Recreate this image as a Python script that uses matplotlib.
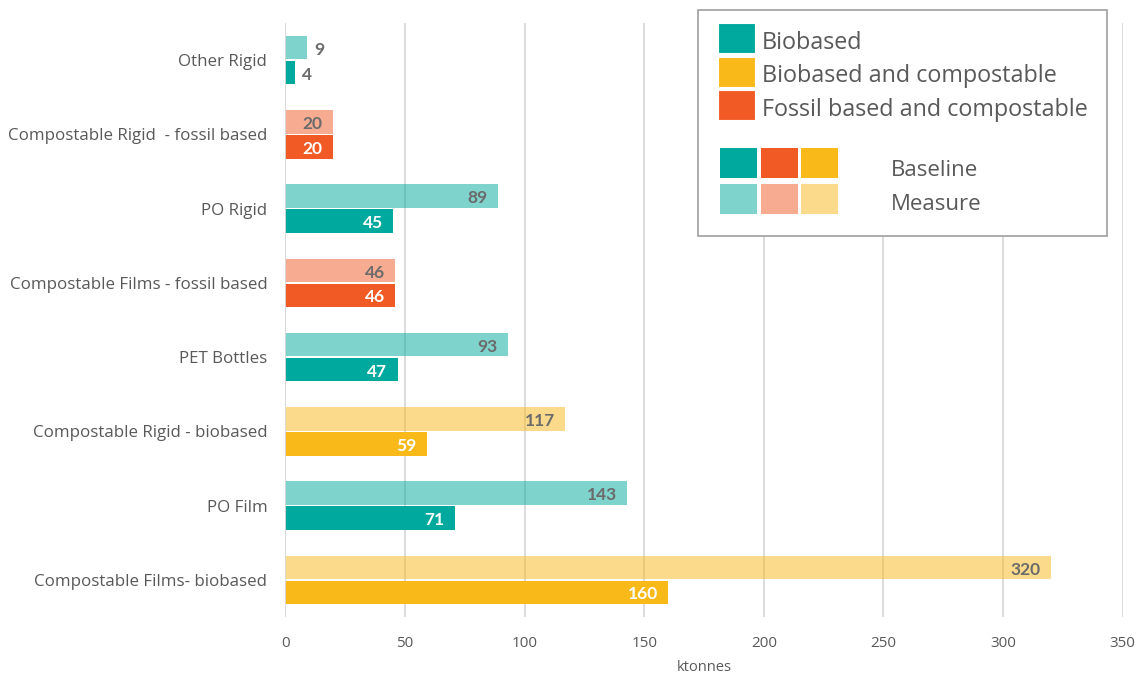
import matplotlib
matplotlib.use("Agg")
import matplotlib.pyplot as plt
from matplotlib.patches import Rectangle
import numpy as np

plt.rcParams['font.family'] = ['Open Sans', 'DejaVu Sans']

categories = ["Other Rigid", "Compostable Rigid  - fossil based", "PO Rigid",
              "Compostable Films - fossil based", "PET Bottles",
              "Compostable Rigid - biobased", "PO Film", "Compostable Films- biobased"]
measure = [9, 20, 89, 46, 93, 117, 143, 320]
baseline = [4, 20, 45, 46, 47, 59, 71, 160]
groups = ["bio", "fossil", "bio", "fossil", "bio", "bc", "bio", "bc"]

palette = {"bio": "#00A99D", "bc": "#F9B918", "fossil": "#F15A24"}
legend_names = [("Biobased", "bio"), ("Biobased and compostable", "bc"),
                ("Fossil based and compostable", "fossil")]

text_gray = "#595959"
label_gray = "#6B6B6B"

fig = plt.figure(figsize=(11.41, 6.77), dpi=100)
ax = fig.add_axes([0.2501, 0.0886, 0.7339, 0.8774])

y = np.arange(len(categories))
h = 0.315
off = 0.168
cols = [palette[g] for g in groups]

ax.barh(y - off, measure, height=h, color=cols, alpha=0.5, zorder=3, linewidth=0)
ax.barh(y + off, baseline, height=h, color=cols, zorder=3, linewidth=0)

ax.set_xlim(0, 350)
ax.set_ylim(len(categories) - 0.5, -0.5)
ax.set_xticks(np.arange(0, 351, 50))
ax.set_yticks(y)
ax.set_yticklabels(categories)
ax.grid(axis="x", color="#D9D9D9", linewidth=1.3, zorder=2)
ax.set_axisbelow(False)
for s in ax.spines.values():
    s.set_visible(False)
ax.tick_params(axis="y", length=0, pad=13, labelsize=12.15, labelcolor=text_gray)
ax.tick_params(axis="x", length=0, pad=14, labelsize=11, labelcolor=text_gray)
ax.set_xlabel("ktonnes", fontsize=10.5, color=text_gray, labelpad=6)
ax.axvline(0, color="#D9D9D9", linewidth=1.3, zorder=4)

# value labels: inside the bar end when there is room, otherwise just outside
val_font = dict(fontsize=12.5, fontweight="bold", family=["Lato", "DejaVu Sans"], zorder=5)

def put(vals, yy, inside_color):
    for v, yc in zip(vals, yy):
        if v >= 15:
            ax.annotate(str(v), (v, yc), xytext=(-7.5, -1.5), textcoords="offset points",
                        ha="right", va="center", color=inside_color, **val_font)
        else:
            ax.annotate(str(v), (v, yc), xytext=(5, -1.5), textcoords="offset points",
                        ha="left", va="center", color=label_gray, **val_font)

put(measure, y - off, label_gray)
put(baseline, y + off, "white")

# custom legend box drawn in pixel coordinates
W, H = 1141, 677
def px(x0, y0, w, hh):
    return (x0 / W, 1 - (y0 + hh) / H, w / W, hh / H)

bx, by, bw, bh = px(698, 10, 409, 226)
fig.patches.append(Rectangle((bx, by), bw, bh, transform=fig.transFigure,
                             facecolor="white", edgecolor="#A6A6A6", linewidth=1.3, zorder=10))

for i, (name, key) in enumerate(legend_names):
    top = 23 + i * 33.5
    rx, ry, rw, rh = px(718, top, 37, 30)
    fig.patches.append(Rectangle((rx, ry), rw, rh, transform=fig.transFigure,
                                 facecolor=palette[key], edgecolor="white", linewidth=0.8, zorder=11))
    fig.text(762 / W, 1 - (top + 20) / H, name, fontsize=16.8, color=text_gray,
             va="center", ha="left", zorder=12)

col_x = [720, 761, 801]
col_keys = ["bio", "fossil", "bc"]
for cx, key in zip(col_x, col_keys):
    for row, (top, a) in enumerate([(148, 1.0), (184, 0.5)]):
        rx, ry, rw, rh = px(cx, top, 37, 30)
        fig.patches.append(Rectangle((rx, ry), rw, rh, transform=fig.transFigure,
                                     facecolor=palette[key], alpha=a, edgecolor="none",
                                     zorder=11))
fig.text(891 / W, 1 - 171 / H, "Baseline", fontsize=16, color=text_gray,
         va="center", ha="left", zorder=12)
fig.text(891 / W, 1 - 204 / H, "Measure", fontsize=16, color=text_gray,
         va="center", ha="left", zorder=12)

fig.savefig("out.png", dpi=100, facecolor="white")
